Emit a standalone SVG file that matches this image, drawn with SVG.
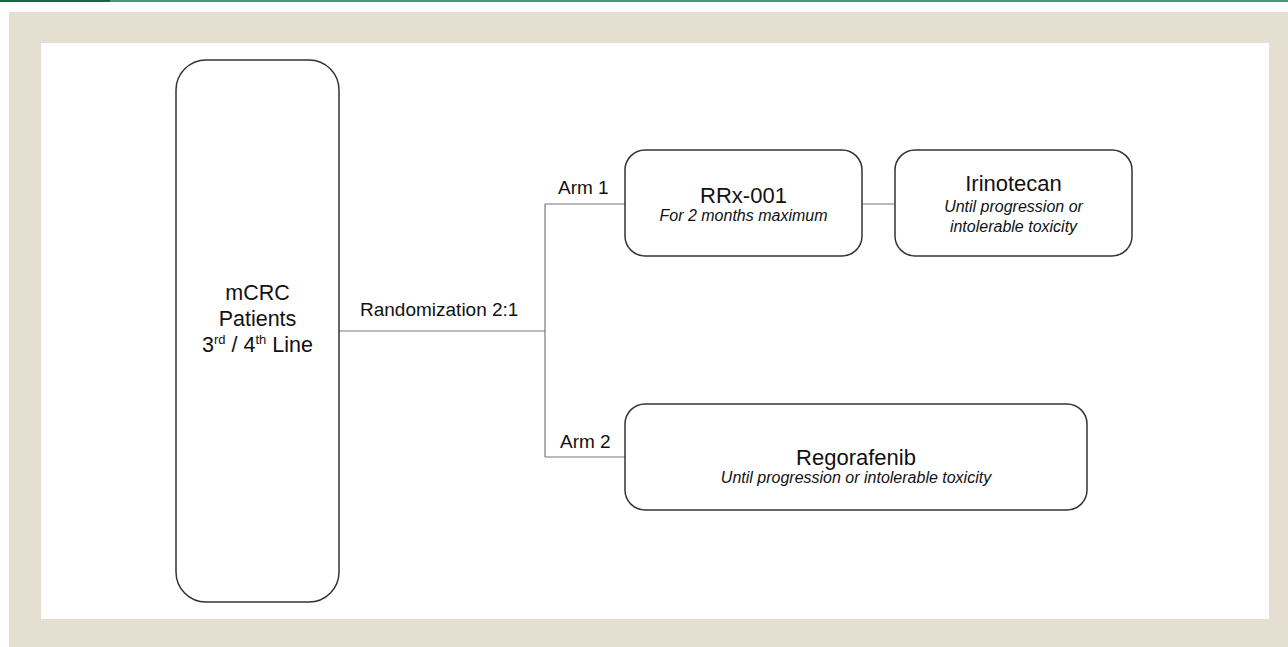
<svg xmlns="http://www.w3.org/2000/svg" width="1288" height="647" viewBox="0 0 1288 647">
<style>
.box{fill:#fff;stroke:#333;stroke-width:1.5}
.con{stroke:#777;stroke-width:1.2;fill:none}
text{font-family:"Liberation Sans",Arial,sans-serif;fill:#111}
.t{font-size:22px;text-anchor:middle}
.s{font-size:16px;font-style:italic;text-anchor:middle}
.m{font-size:21.5px;text-anchor:middle}
.l{font-size:19px}
</style>
<rect x="0" y="0" width="1288" height="647" fill="#fff"/>
<rect x="0" y="0" width="110" height="2" fill="#0a6b45"/>
<rect x="110" y="0" width="1178" height="2" fill="#3f9a78"/>
<rect x="9" y="12" width="1279" height="635" fill="#e5dfd2"/>
<rect x="41" y="43" width="1228" height="576" fill="#fff"/>
<g id="connectors">
<path class="con" d="M339 331H545M545 204V457M545 204H625M545 457H625M862 204H895"/>
</g>
<g id="patients">
<rect class="box" x="176" y="60" width="163" height="542" rx="30"/>
<text class="m" x="257.500" y="300">mCRC</text>
<text class="m" x="257.500" y="326">Patients</text>
<text class="m" x="257.500" y="352">3<tspan font-size="13" dy="-8">rd</tspan><tspan dy="8"> / 4</tspan><tspan font-size="13" dy="-8">th</tspan><tspan dy="8"> Line</tspan></text>
</g>
<g id="labels">
<text class="l" x="360" y="316">Randomization 2:1</text>
<text class="l" x="558" y="194">Arm 1</text>
<text class="l" x="560" y="448">Arm 2</text>
</g>
<g id="rrx">
<rect class="box" x="625" y="150" width="237" height="106" rx="20"/>
<text class="t" x="743.500" y="203">RRx-001</text>
<text class="s" x="743.500" y="221">For 2 months maximum</text>
</g>
<g id="irinotecan">
<rect class="box" x="895" y="150" width="237" height="106" rx="20"/>
<text class="t" x="1013.500" y="191">Irinotecan</text>
<text class="s" x="1013.500" y="212">Until progression or</text>
<text class="s" x="1013.500" y="232">intolerable toxicity</text>
</g>
<g id="regorafenib">
<rect class="box" x="625" y="404" width="462" height="106" rx="20"/>
<text class="t" x="856" y="465">Regorafenib</text>
<text class="s" x="856" y="483">Until progression or intolerable toxicity</text>
</g>
</svg>
